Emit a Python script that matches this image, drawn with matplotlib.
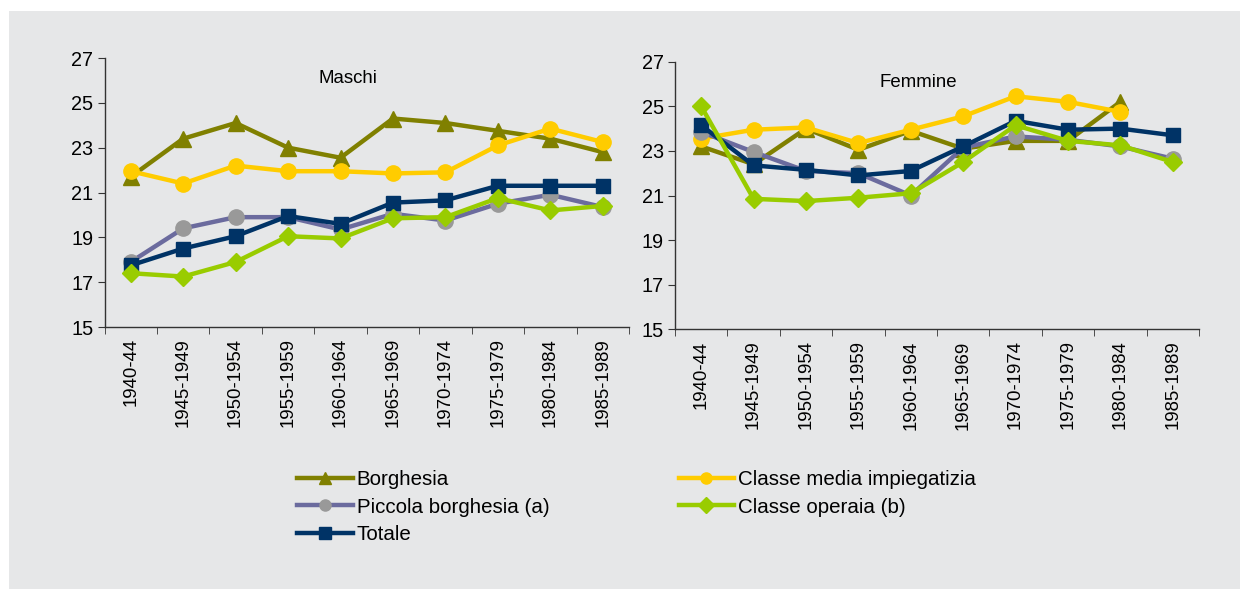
import numpy as np
import matplotlib
matplotlib.use("Agg")
import matplotlib.pyplot as plt
from matplotlib.patches import Rectangle

plt.rcParams['font.family'] = ['Liberation Sans', 'DejaVu Sans']

# --- data ---
periods = ["1940-44", "1945-1949", "1950-1954", "1955-1959", "1960-1964",
           "1965-1969", "1970-1974", "1975-1979", "1980-1984", "1985-1989"]

m_borghesia = [21.7, 23.4, 24.1, 23.0, 22.55, 24.3, 24.1, 23.75, 23.4, 22.8]
m_media = [21.95, 21.4, 22.2, 21.95, 21.95, 21.85, 21.9, 23.1, 23.85, 23.25]
m_piccola = [17.9, 19.4, 19.9, 19.9, 19.35, 20.05, 19.75, 20.5, 20.9, 20.35]
m_operaia = [17.4, 17.25, 17.9, 19.05, 18.95, 19.85, 19.9, 20.75, 20.2, 20.4]
m_totale = [17.75, 18.5, 19.05, 19.95, 19.6, 20.55, 20.65, 21.3, 21.3, 21.3]

f_borghesia = [23.2, 22.4, 24.0, 23.05, 23.9, 23.1, 23.45, 23.45, 25.2, np.nan]
f_media = [23.55, 23.95, 24.05, 23.35, 23.95, 24.55, 25.45, 25.2, 24.75, np.nan]
f_piccola = [23.85, 22.95, 22.1, 22.0, 21.0, 23.15, 23.65, 23.5, 23.2, 22.65]
f_operaia = [25.0, 20.85, 20.75, 20.9, 21.1, 22.5, 24.15, 23.45, 23.25, 22.5]
f_totale = [24.15, 22.35, 22.15, 21.9, 22.1, 23.2, 24.35, 23.95, 24.0, 23.7]

labels = ["Borghesia", "Piccola borghesia (a)", "Totale",
          "Classe media impiegatizia", "Classe operaia (b)"]

# --- styles ---
bg = "#E6E7E8"
styles = {
    "Borghesia": dict(color="#808000", marker="^", mfc="#808000", mec="#808000"),
    "Piccola borghesia (a)": dict(color="#6B6B9E", marker="o", mfc="#999999", mec="#999999"),
    "Totale": dict(color="#003366", marker="s", mfc="#003366", mec="#003366"),
    "Classe media impiegatizia": dict(color="#FFCC00", marker="o", mfc="#FFCC00", mec="#FFCC00"),
    "Classe operaia (b)": dict(color="#99CC00", marker="D", mfc="#99CC00", mec="#99CC00"),
}
msizes = {"^": 11, "o": 11, "s": 10, "D": 9}
draw_order = ["Borghesia", "Classe media impiegatizia", "Piccola borghesia (a)",
              "Totale", "Classe operaia (b)"]

fig = plt.figure(figsize=(12.4, 5.89), dpi=100, facecolor="white")
fig.patches.append(Rectangle((9 / 1240, 0), 1 - 9 / 1240, 1 - 11 / 589,
                             transform=fig.transFigure, facecolor=bg,
                             edgecolor="none", zorder=-10))

ax1 = fig.add_axes([104.5 / 1240, 1 - 327 / 589, 524.5 / 1240, 269 / 589])
ax2 = fig.add_axes([675 / 1240, 1 - 329.3 / 589, 524 / 1240, 267.6 / 589])

x = np.arange(len(periods))
panels = [
    (ax1, "Maschi", {"Borghesia": m_borghesia, "Classe media impiegatizia": m_media,
                     "Piccola borghesia (a)": m_piccola, "Totale": m_totale,
                     "Classe operaia (b)": m_operaia}),
    (ax2, "Femmine", {"Borghesia": f_borghesia, "Classe media impiegatizia": f_media,
                      "Piccola borghesia (a)": f_piccola, "Totale": f_totale,
                      "Classe operaia (b)": f_operaia}),
]

handles = {}
for ax, title, series in panels:
    ax.set_facecolor("none")
    for name in draw_order:
        st = styles[name]
        h, = ax.plot(x, series[name], color=st["color"], lw=3.2,
                     marker=st["marker"], markersize=msizes[st["marker"]],
                     markerfacecolor=st["mfc"], markeredgecolor=st["mec"],
                     label=name)
        handles[name] = h
    ax.set_xlim(-0.5, len(periods) - 0.5)
    ax.set_ylim(15, 27)
    ax.set_yticks([15, 17, 19, 21, 23, 25, 27])
    ax.set_xticks(x)
    ax.set_xticklabels(periods, rotation=90)
    ax.set_xticks(np.arange(-0.5, len(periods)), minor=True)
    ax.tick_params(axis="x", which="major", length=0, pad=8, labelsize=13.4)
    ax.tick_params(axis="x", which="minor", length=5, color="#333333")
    ax.tick_params(axis="y", length=5, color="#333333", labelsize=14.3, pad=3)
    for s in ["top", "right"]:
        ax.spines[s].set_visible(False)
    for s in ["left", "bottom"]:
        ax.spines[s].set_color("#333333")
        ax.spines[s].set_linewidth(1.0)
    ax.text(0.465, 0.955, title, transform=ax.transAxes, ha="center", va="top",
            fontsize=13.4)

leg = fig.legend([handles[n] for n in labels], labels, ncol=2,
                 loc="upper left", bbox_to_anchor=(297 / 1240, 1 - 470 / 589),
                 frameon=False, fontsize=14.8, handlelength=2.7,
                 handletextpad=0.2, columnspacing=6.3, labelspacing=0.42,
                 borderaxespad=0, borderpad=0)
for lh in leg.get_lines():
    lh.set_markersize(8)

fig.savefig("out.png", dpi=100, facecolor=fig.get_facecolor())
